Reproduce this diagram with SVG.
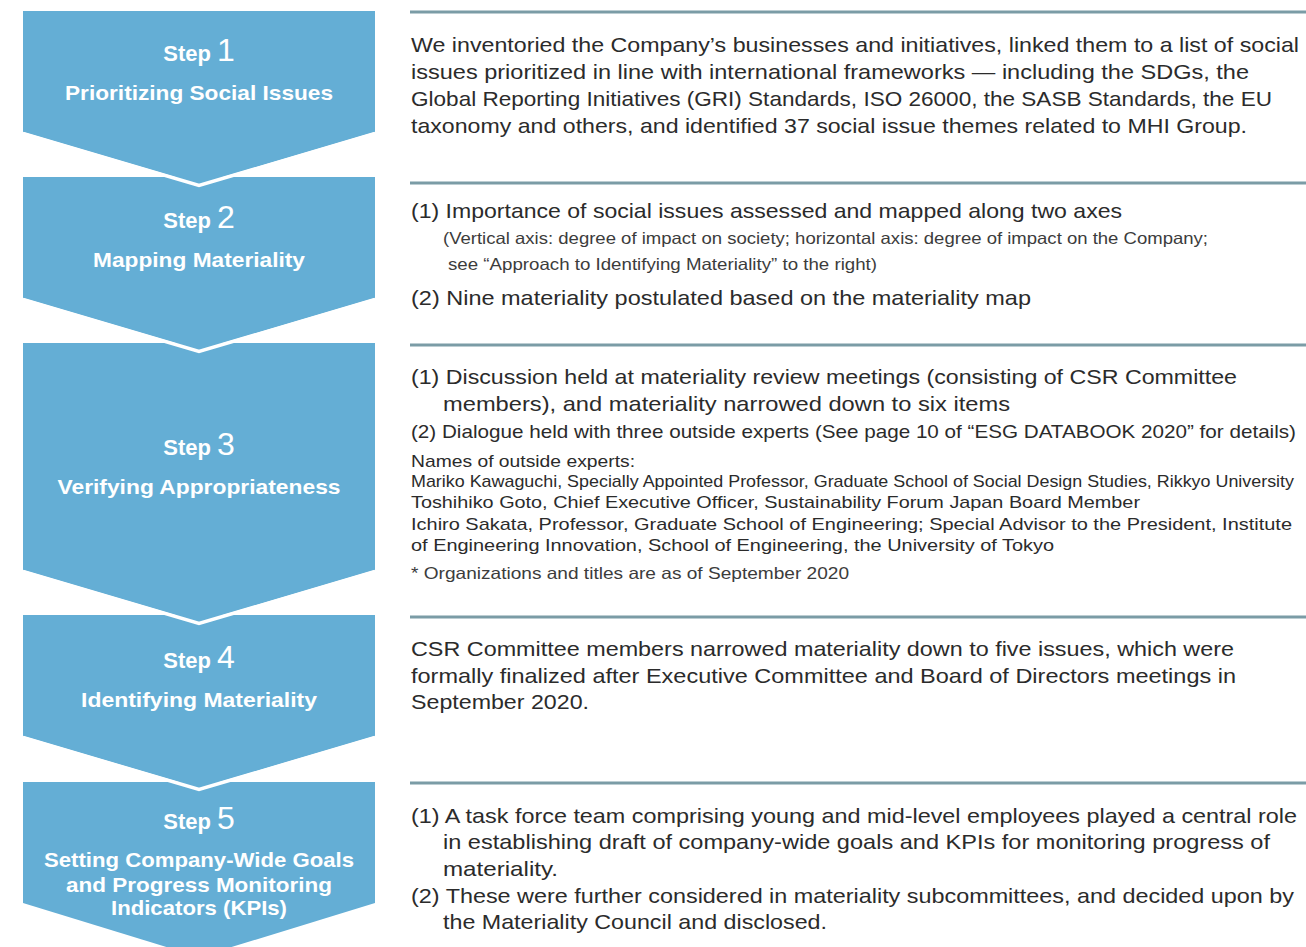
<svg xmlns="http://www.w3.org/2000/svg" width="1306" height="947" viewBox="0 0 1306 947">
<style>
.box{fill:#64AED5}
.gap{fill:none;stroke:#FFFFFF;stroke-width:3.5;stroke-linejoin:miter}
.sep{stroke:#7B9CA6;stroke-width:3}
.st{font-family:"Liberation Sans",Arial,sans-serif;fill:#FFFFFF;font-weight:bold;text-anchor:middle}
.sw{font-size:22px}
.sn{font-size:32px;font-weight:normal}
.sl{font-size:20.5px}
.t{font-family:"Liberation Sans",Arial,sans-serif;fill:#2B2B2B;font-size:21px}
.s{font-family:"Liberation Sans",Arial,sans-serif;fill:#3C3C3C;font-size:16.5px}
.n{font-family:"Liberation Sans",Arial,sans-serif;fill:#2B2B2B;font-size:17px}
</style>
<rect width="1306" height="947" fill="#FFFFFF"/>
<g id="step5">
<polygon class="box" points="23,782 375,782 375,903 199,957 23,903"/>
<text class="st" x="199" y="829"><tspan class="sw">Step </tspan><tspan class="sn">5</tspan></text>
<text class="st sl" x="199" y="867" textLength="310" lengthAdjust="spacingAndGlyphs">Setting Company-Wide Goals</text>
<text class="st sl" x="199" y="892" textLength="266" lengthAdjust="spacingAndGlyphs">and Progress Monitoring</text>
<text class="st sl" x="199" y="915" textLength="176" lengthAdjust="spacingAndGlyphs">Indicators (KPIs)</text>
</g>
<g id="step4">
<polygon class="box" points="23,615 375,615 375,736 199,788 23,736"/>
<polyline class="gap" points="23,737.5 199,789.5 375,737.5"/>
<text class="st" x="199" y="668"><tspan class="sw">Step </tspan><tspan class="sn">4</tspan></text>
<text class="st sl" x="199" y="707" textLength="236" lengthAdjust="spacingAndGlyphs">Identifying Materiality</text>
</g>
<g id="step3">
<polygon class="box" points="23,343 375,343 375,570 199,622 23,570"/>
<polyline class="gap" points="23,571.5 199,623.5 375,571.5"/>
<text class="st" x="199" y="455"><tspan class="sw">Step </tspan><tspan class="sn">3</tspan></text>
<text class="st sl" x="199" y="494" textLength="283" lengthAdjust="spacingAndGlyphs">Verifying Appropriateness</text>
</g>
<g id="step2">
<polygon class="box" points="23,177 375,177 375,298 199,350 23,298"/>
<polyline class="gap" points="23,299.5 199,351.5 375,299.5"/>
<text class="st" x="199" y="228"><tspan class="sw">Step </tspan><tspan class="sn">2</tspan></text>
<text class="st sl" x="199" y="267" textLength="212" lengthAdjust="spacingAndGlyphs">Mapping Materiality</text>
</g>
<g id="step1">
<polygon class="box" points="23,11 375,11 375,132 199,184 23,132"/>
<polyline class="gap" points="23,133.5 199,185.5 375,133.5"/>
<text class="st" x="199" y="61"><tspan class="sw">Step </tspan><tspan class="sn">1</tspan></text>
<text class="st sl" x="199" y="100" textLength="268" lengthAdjust="spacingAndGlyphs">Prioritizing Social Issues</text>
</g>
<g id="connectors">
<line class="sep" x1="410" y1="12" x2="1306" y2="12"/>
<line class="sep" x1="410" y1="183" x2="1306" y2="183"/>
<line class="sep" x1="410" y1="345" x2="1306" y2="345"/>
<line class="sep" x1="410" y1="617" x2="1306" y2="617"/>
<line class="sep" x1="410" y1="783" x2="1306" y2="783"/>
</g>
<g id="desc1">
<text class="t" x="411" y="52" textLength="888" lengthAdjust="spacingAndGlyphs">We inventoried the Company’s businesses and initiatives, linked them to a list of social</text>
<text class="t" x="411" y="79" textLength="838" lengthAdjust="spacingAndGlyphs">issues prioritized in line with international frameworks — including the SDGs, the</text>
<text class="t" x="411" y="106" textLength="861" lengthAdjust="spacingAndGlyphs">Global Reporting Initiatives (GRI) Standards, ISO 26000, the SASB Standards, the EU</text>
<text class="t" x="411" y="133" textLength="836" lengthAdjust="spacingAndGlyphs">taxonomy and others, and identified 37 social issue themes related to MHI Group.</text>
</g>
<g id="desc2">
<text class="t" x="411" y="218" textLength="711" lengthAdjust="spacingAndGlyphs">(1) Importance of social issues assessed and mapped along two axes</text>
<text class="s" x="443" y="244" textLength="765" lengthAdjust="spacingAndGlyphs">(Vertical axis: degree of impact on society; horizontal axis: degree of impact on the Company;</text>
<text class="s" x="448" y="270" textLength="429" lengthAdjust="spacingAndGlyphs">see “Approach to Identifying Materiality” to the right)</text>
<text class="t" x="411" y="305" textLength="620" lengthAdjust="spacingAndGlyphs">(2) Nine materiality postulated based on the materiality map</text>
</g>
<g id="desc3">
<text class="t" x="411" y="384" textLength="826" lengthAdjust="spacingAndGlyphs">(1) Discussion held at materiality review meetings (consisting of CSR Committee</text>
<text class="t" x="443" y="411" textLength="567" lengthAdjust="spacingAndGlyphs">members), and materiality narrowed down to six items</text>
<text class="t" x="411" y="438" style="font-size:18.5px" textLength="885" lengthAdjust="spacingAndGlyphs">(2) Dialogue held with three outside experts (See page 10 of “ESG DATABOOK 2020” for details)</text>
<text class="n" x="411" y="467" textLength="224" lengthAdjust="spacingAndGlyphs">Names of outside experts:</text>
<text class="n" x="411" y="487" textLength="883" lengthAdjust="spacingAndGlyphs">Mariko Kawaguchi, Specially Appointed Professor, Graduate School of Social Design Studies, Rikkyo University</text>
<text class="n" x="411" y="508" textLength="729" lengthAdjust="spacingAndGlyphs">Toshihiko Goto, Chief Executive Officer, Sustainability Forum Japan Board Member</text>
<text class="n" x="411" y="530" textLength="881" lengthAdjust="spacingAndGlyphs">Ichiro Sakata, Professor, Graduate School of Engineering; Special Advisor to the President, Institute</text>
<text class="n" x="411" y="551" textLength="643" lengthAdjust="spacingAndGlyphs">of Engineering Innovation, School of Engineering, the University of Tokyo</text>
<text class="s" x="411" y="579" textLength="438" lengthAdjust="spacingAndGlyphs">* Organizations and titles are as of September 2020</text>
</g>
<g id="desc4">
<text class="t" x="411" y="656" textLength="823" lengthAdjust="spacingAndGlyphs">CSR Committee members narrowed materiality down to five issues, which were</text>
<text class="t" x="411" y="683" textLength="825" lengthAdjust="spacingAndGlyphs">formally finalized after Executive Committee and Board of Directors meetings in</text>
<text class="t" x="411" y="709" textLength="178" lengthAdjust="spacingAndGlyphs">September 2020.</text>
</g>
<g id="desc5">
<text class="t" x="411" y="823" textLength="886" lengthAdjust="spacingAndGlyphs">(1) A task force team comprising young and mid-level employees played a central role</text>
<text class="t" x="443" y="849" textLength="827" lengthAdjust="spacingAndGlyphs">in establishing draft of company-wide goals and KPIs for monitoring progress of</text>
<text class="t" x="443" y="876" textLength="115" lengthAdjust="spacingAndGlyphs">materiality.</text>
<text class="t" x="411" y="903" textLength="883" lengthAdjust="spacingAndGlyphs">(2) These were further considered in materiality subcommittees, and decided upon by</text>
<text class="t" x="443" y="929" textLength="384" lengthAdjust="spacingAndGlyphs">the Materiality Council and disclosed.</text>
</g>
</svg>
